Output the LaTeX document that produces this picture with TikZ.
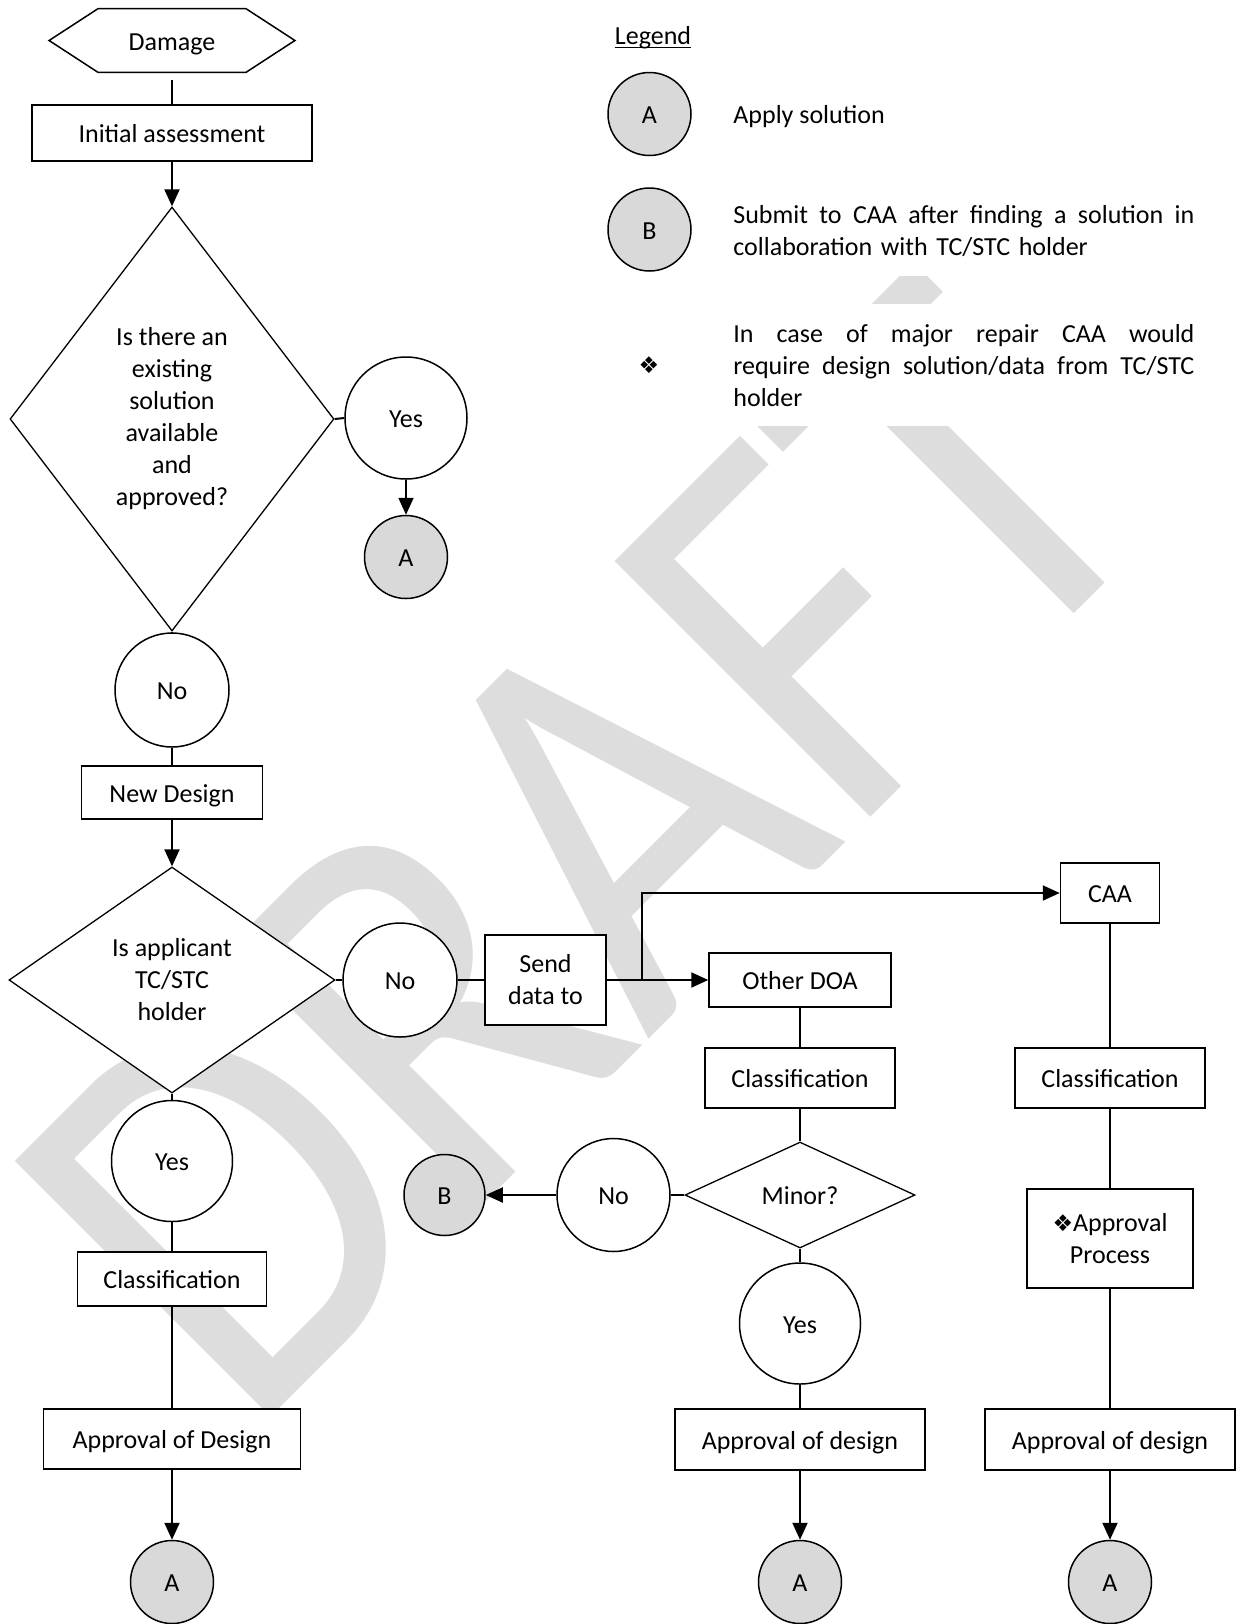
\documentclass[tikz,border=0pt]{standalone}
\usepackage{fontspec}
\setmainfont{Carlito}
\newfontfamily\dejavu{DejaVu Sans}
\usetikzlibrary{shapes.geometric,arrows.meta,calc}
\definecolor{cgray}{RGB}{217,217,217}
\definecolor{wm}{RGB}{221,221,221}
\newcommand\myorn{{\dejavu\fontsize{11.5pt}{11.5pt}\selectfont ❖}}
\newcommand\js{\hspace{2.9pt plus 1fill}}
\begin{document}
\begin{tikzpicture}[x=0.5pt,y=-0.5pt,
  txt/.style={font=\fontsize{13pt}{16pt}\selectfont, inner sep=0pt},
  sl/.style={text height=11.5pt, text depth=2pt},
  box/.style={txt, draw, fill=white, line width=0.75pt, rectangle, align=center},
  dia/.style={txt, draw, fill=white, line width=0.65pt, diamond, align=center},
  circ/.style={txt, sl, draw, fill=white, line width=0.75pt, circle},
  term/.style={circ, fill=cgray},
  conn/.style={line width=1pt},
  arr/.style={conn, -{Triangle[length=8.5pt,width=7.5pt]}}]
\fill[white] (0,0) rectangle (1239,1624);
\useasboundingbox (0,0) rectangle (1239,1624);
% watermark
\begin{scope}[shift={(247.6,1440.4)},rotate=45,yscale=1.155]
\node[anchor=base west,inner sep=0pt,transform shape,text=wm,font=\fontsize{244pt}{244pt}\selectfont] (wmark) at (0,0) {DRAFT};
\end{scope}
% left column
\node[txt, sl, minimum width=122.5pt, minimum height=31.5pt] (dmg) at (172,40.5) {Damage};
\draw[line width=0.75pt] (dmg.west) -- ([xshift=24.5pt]dmg.north west) -- ([xshift=-24.5pt]dmg.north east) -- (dmg.east) -- ([xshift=-24.5pt]dmg.south east) -- ([xshift=24.5pt]dmg.south west) -- cycle;
\node[box, sl, minimum width=140pt, minimum height=28pt] (init) at (172,133) {Initial assessment};
\node[dia, minimum width=162pt, minimum height=212pt] (d1) at (172,419) {Is there an\\existing\\solution\\available\\and\\approved?};
\node[circ, minimum size=61pt] (yes1) at (406,418) {Yes};
\node[term, minimum size=41.5pt] (a1) at (406,557) {A};
\node[circ, minimum size=57pt] (no1) at (172,690) {No};
\node[box, sl, minimum width=90.5pt, minimum height=26.5pt] (newd) at (172,792.5) {New Design};
\node[dia, minimum width=163pt, minimum height=113pt] (d2) at (172,980) {Is applicant\\TC/STC\\holder};
\node[circ, minimum size=57pt] (no2) at (400,980) {No};
\node[box, minimum width=60.5pt, minimum height=45pt] (send) at (545.5,980) {Send\\data to};
\coordinate (j) at (642,980);
\node[box, sl, minimum width=91pt, minimum height=27pt] (odoa) at (800,980) {Other DOA};
\node[box, sl, minimum width=49.5pt, minimum height=30pt] (caa) at (1110,893) {CAA};
\node[box, sl, minimum width=95pt, minimum height=30pt] (cls2) at (800,1078) {Classification};
\node[dia, sl, minimum width=115pt, minimum height=53pt] (minor) at (800,1195) {Minor?};
\node[circ, minimum size=56.5pt] (no3) at (613.5,1195) {No};
\node[term, minimum size=40.5pt] (bc) at (444.5,1195) {B};
\node[circ, minimum size=60.5pt] (yes3) at (800,1323.5) {Yes};
\node[box, sl, minimum width=125pt, minimum height=30.5pt] (aod2) at (800,1439.5) {Approval of design};
\node[term, minimum size=41.5pt] (a3) at (800,1582) {A};
\node[box, sl, minimum width=95pt, minimum height=30pt] (cls3) at (1110,1078) {Classification};
\node[box, minimum width=83pt, minimum height=49.5pt] (appr) at (1110,1238.5) {\myorn Approval\\Process};
\node[box, sl, minimum width=125pt, minimum height=30.5pt] (aod3) at (1110,1439.5) {Approval of design};
\node[term, minimum size=41.5pt] (a4) at (1110,1582) {A};
\node[circ, minimum size=60.5pt] (yes2) at (172,1161) {Yes};
\node[box, sl, minimum width=94.5pt, minimum height=27pt] (cls1) at (172,1279) {Classification};
\node[box, sl, minimum width=128.5pt, minimum height=30pt] (aod1) at (172,1439) {Approval of Design};
\node[term, minimum size=41.5pt] (a2) at (172,1582) {A};
% legend
\node[txt, anchor=base] (leg) at (653,44) {Legend};
\draw[line width=0.6pt] ([yshift=-1.8pt]leg.base west) -- ([yshift=-1.8pt]leg.base east);
\node[term, minimum size=41.5pt] (la) at (649.5,114) {A};
\node[txt, anchor=base west] (lat) at (733,123) {Apply solution};
\node[term, minimum size=41.5pt] (lb) at (649.5,229.5) {B};
\node[txt, anchor=base west, text width=230.5pt, fill=white, inner ysep=10pt] (lbt) at (733,223) {\makebox[230.5pt][s]{Submit\js to\js CAA\js after\js finding\js a\js solution\js in}\\collaboration with TC/STC holder};
\node[txt] (lsym) at (649,365) {\myorn};
\node[txt, anchor=base west, text width=230.5pt, fill=white, inner ysep=10pt] (lct) at (733,342) {\makebox[230.5pt][s]{In\js case\js of\js major\js repair\js CAA\js would}\\\makebox[230.5pt][s]{require\js design\js solution/data\js from\js TC/STC}\\holder};
% connectors
\draw[conn, shorten <=4pt] (dmg) -- (init);
\draw[arr] (init) -- (d1.north);
\draw[conn] (d1.east) -- (yes1.west);
\draw[arr] (yes1) -- (a1);
\draw[conn] (d1.south) -- (no1);
\draw[conn] (no1) -- (newd);
\draw[arr] (newd) -- (d2.north);
\draw[conn] (d2.east) -- (no2);
\draw[conn] (no2) -- (send);
\draw[arr] (send) -- (odoa);
\draw[arr] (j) |- (caa.west);
\draw[conn] (odoa) -- (cls2);
\draw[conn] (cls2) -- (minor.north);
\draw[conn] (minor.west) -- (no3);
\draw[arr] (no3) -- (bc);
\draw[conn] (minor.south) -- (yes3);
\draw[conn] (yes3) -- (aod2);
\draw[arr] (aod2) -- (a3);
\draw[conn] (caa) -- (cls3);
\draw[conn] (cls3) -- (appr);
\draw[conn] (appr) -- (aod3);
\draw[arr] (aod3) -- (a4);
\draw[conn] (d2.south) -- (yes2);
\draw[conn] (yes2) -- (cls1);
\draw[conn] (cls1) -- (aod1);
\draw[arr] (aod1) -- (a2);
\end{tikzpicture}
\end{document}
